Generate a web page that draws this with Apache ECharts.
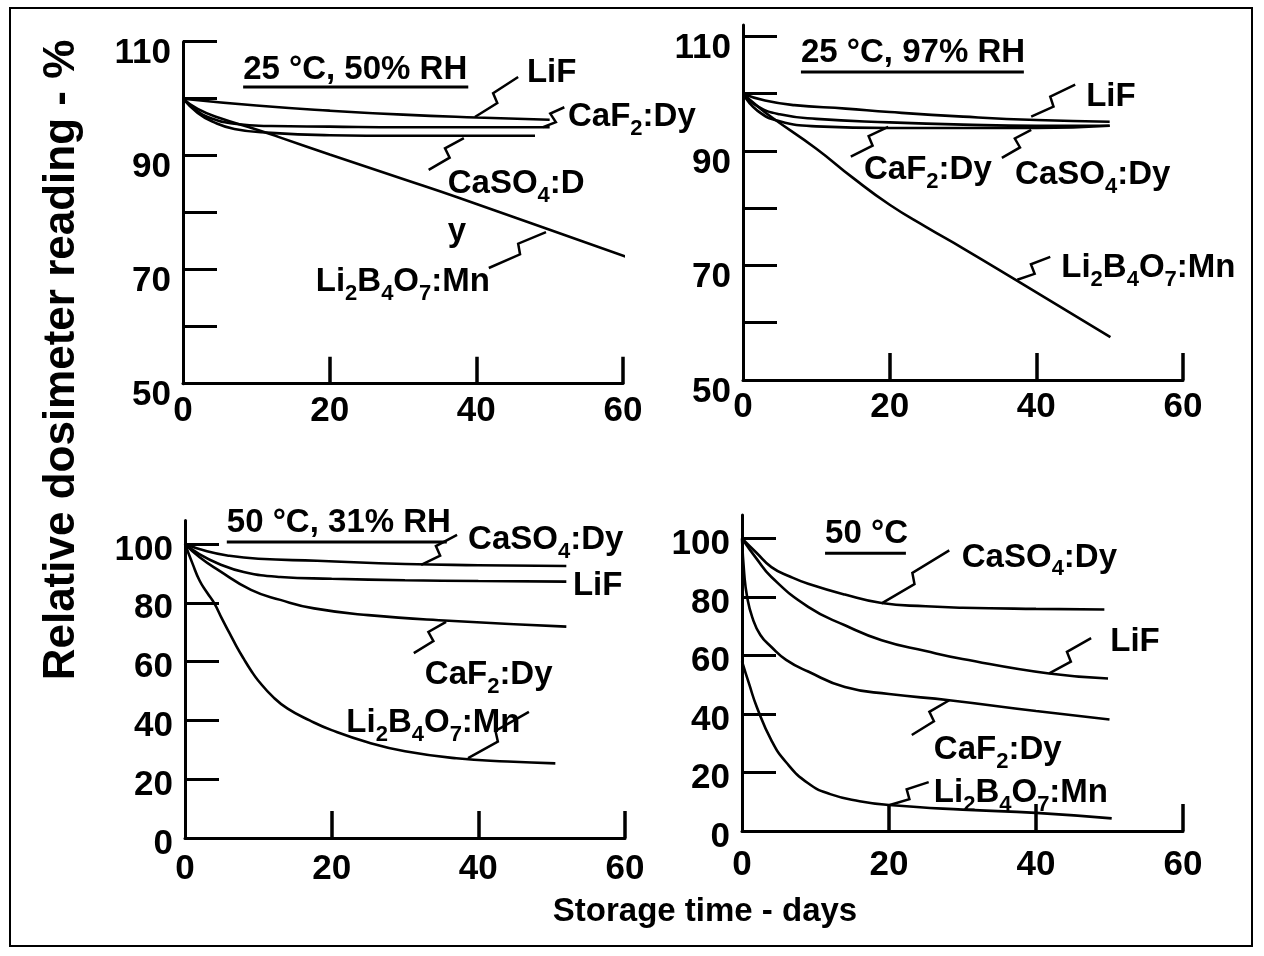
<!DOCTYPE html>
<html>
<head>
<meta charset="utf-8"/>
<script src="https://cdn.jsdelivr.net/npm/echarts@6/dist/echarts.min.js"></script>
<style>html,body{margin:0;padding:0;background:#fff}</style>
</head>
<body>
<div id="main" style="width:1264px;height:956px;"></div>
<script type="text/javascript">
// no narrow face installed, so everything uses the Arial-metric bold
var FONT = "'Liberation Sans',Arial,sans-serif";

// ---- data, [days, %] ----
// 25 C, 50% RH
var p1LiF   = [[0,100],[10,98.8],[20,97.9],[30,97.2],[40,96.7],[50,96.3]];
var p1CaF2  = [[0,100],[2,97.8],[4,96.5],[7,95.6],[12,95.2],[20,95.1],[30,95],[40,95],[50,95]];
var p1CaSO4 = [[0,100],[2,97.5],[4,96],[7,94.7],[12,94],[20,93.6],[30,93.5],[40,93.5],[48,93.5]];
var p1LiB   = [[0,100],[2,98.2],[5,96.6],[10,94.6],[13,93.3],[20,90.2],[30,85.9],[37.4,82.7],[50,77],[61,72]];
// 25 C, 97% RH
var p2LiF   = [[0,100],[3,98.8],[7,98],[14,97.4],[20,96.8],[30,96],[40,95.4],[50,95.1]];
var p2CaSO4 = [[0,100],[2,97.8],[5,96.4],[10,95.6],[20,95],[30,94.6],[40,94.4],[50,94.4]];
var p2CaF2  = [[0,100],[2,97],[5,95.2],[10,94.3],[20,94],[30,94],[40,94],[50,94.4]];
var p2LiB   = [[0,100],[2,97.8],[4,95.8],[10,90.4],[15,85.3],[20,80.6],[25,76.7],[30,73],[37.3,67.4],[50.1,57.5]];
// 50 C, 31% RH
var p3CaSO4 = [[0,100],[3,97.5],[6,96],[10,95],[18,94.3],[30,93.2],[40,92.8],[52,92.5]];
var p3LiF   = [[0,100],[2,96.5],[4.5,93.4],[8,90.5],[13,88.8],[20,88.2],[30,87.7],[40,87.4],[52,87.2]];
var p3CaF2  = [[0,100],[2,95.5],[4.5,91.2],[9,84.4],[13,81],[17.6,78.1],[25,75.8],[36,73.9],[52,71.9]];
var p3LiB   = [[0,100],[1,93.5],[2,87.5],[3,83.5],[4,79.8],[5,74.8],[6,70],[7,65.3],[8,61],[9,57],[10,53.5],[12,48],[14,44],[17,40],[20,36.7],[25,32.5],[30,29.5],[37,27.1],[44,26],[50.5,25.4]];
// 50 C
var p4CaSO4 = [[0,100],[2,95],[4,90.2],[6.5,87],[9,84.5],[14,80.8],[19,77.9],[25,76.8],[30,76.3],[40,75.9],[49.3,75.7]];
var p4LiF   = [[0,100],[2,93],[4,86.8],[9,76.6],[14,70.3],[19,65.2],[25,61.5],[30,58.8],[41.8,53.8],[49.8,52.1]];
var p4CaF2  = [[0,100],[0.3,88],[0.7,80],[1.4,73],[2.5,67],[4,62.9],[6,58.5],[9,54.5],[14,49.2],[20,46.8],[28.2,44.7],[40,41],[50,38.1]];
var p4LiB   = [[0,58],[1,50],[2,42.5],[4,31],[6,23.5],[9,16.3],[12,12.6],[16,10.2],[20,8.9],[30,7.3],[40,6.2],[50.3,4.3]];

var panelData = [
    [p1LiF, p1CaF2, p1CaSO4, p1LiB],
    [p2LiF, p2CaSO4, p2CaF2, p2LiB],
    [p3CaSO4, p3LiF, p3CaF2, p3LiB],
    [p4CaSO4, p4LiF, p4CaF2, p4LiB]
];

// axis ticks and labels
var xTicks = [20, 40, 60];
var xLabels = [0, 20, 40, 60];
var yTicksTop = [60, 70, 80, 90, 100, 110];
var yLabelsTop = [50, 70, 90, 110];
var yTicksBottom = [20, 40, 60, 80, 100];
var yLabelsBottom = [0, 20, 40, 60, 80, 100];
var yRanges = [[50, 110], [50, 112], [0, 108], [0, 108]];

// panel titles and curve names
var titles = ['25 °C, 50% RH', '25 °C, 97% RH', '50 °C, 31% RH', '50 °C'];
var nLiF = 'LiF';
var nCaF2 = 'CaF{s|2}:Dy';
var nCaSO4 = 'CaSO{s|4}:Dy';
var nLiB = 'Li{s|2}B{s|4}O{s|7}:Mn';

// note anchors in data units: [text, x, y]
var notes = [
    [[nLiF, 46.9, 104.5], [nCaF2, 52.5, 96.8], ['CaSO{s|4}:D', 36.1, 85.0], ['y', 36.1, 76.6], [nLiB, 18.1, 67.8]],
    [[nLiF, 46.8, 99.4], [nCaF2, 16.5, 86.7], [nCaSO4, 37.1, 85.8], [nLiB, 43.4, 69.6]],
    [[nCaSO4, 38.6, 101.4], [nLiF, 52.9, 85.7], [nCaF2, 32.7, 55.4], [nLiB, 22.0, 39.1]],
    [[nCaSO4, 29.9, 93.5], [nLiF, 50.1, 64.5], [nCaF2, 26.1, 27.6], [nLiB, 26.1, 13.0]]
];
// title anchor [x, y] and underline [x0, x1, y]
var titlePos = [[8.2, 105.0], [7.9, 107.1], [5.7, 107.1], [11.3, 101.4]];
var underline = [[8.2, 38.9, 102.05], [7.9, 38.3, 103.8], [5.7, 35.7, 100.7], [11.3, 22.3, 94.9]];
// leader lines [x0, y0, x1, y1]
var leaders = [
    [[45.7, 103.8, 39.8, 96.8], [52.0, 98.5, 49.1, 95.0], [33.5, 87.5, 38.3, 93.1], [41.7, 70.3, 49.5, 76.6]],
    [[45.3, 101.6, 39.3, 96.0], [14.7, 89.0, 19.8, 94.2], [35.3, 88.8, 39.3, 93.7], [41.9, 71.5, 37.4, 67.5]],
    [[37.1, 103.1, 32.2, 92.9], [31.2, 62.9, 35.6, 73.5], [46.9, 42.9, 38.6, 27.2]],
    [[28.2, 95.9, 19.0, 77.8], [47.5, 65.9, 41.8, 53.9], [23.1, 32.8, 28.2, 44.7], [25.4, 16.7, 20.1, 8.9]]
];

var grids = [
    {left: 183, top: 41.7, width: 440, height: 342},
    {left: 743, top: 25, width: 440, height: 355},
    {left: 185, top: 520.5, width: 440, height: 317.5},
    {left: 742, top: 515, width: 441, height: 316}
];
var xMargins = [10, 10, 14, 17];
var yShift = [24, 24, 12, 12];

var myChart = echarts.init(document.getElementById('main'));

var xAxes = [], yAxes = [], series = [];
for (var i = 0; i < 4; i++) {
    var isTop = i < 2;
    xAxes.push({
        type: 'value', gridIndex: i, min: 0, max: 60,
        axisLine: {lineStyle: {color: '#000', width: 3}},
        axisTick: {inside: true, length: 27, customValues: xTicks, lineStyle: {color: '#000', width: 3.5}},
        axisLabel: {customValues: xLabels, margin: xMargins[i], color: '#000', fontFamily: FONT, fontWeight: 'bold', fontSize: 35},
        splitLine: {show: false}
    });
    yAxes.push({
        type: 'value', gridIndex: i, min: yRanges[i][0], max: yRanges[i][1],
        axisLine: {show: true, lineStyle: {color: '#000', width: 3}},
        axisTick: {show: true, inside: true, length: 34, customValues: isTop ? yTicksTop : yTicksBottom, lineStyle: {color: '#000', width: 3}},
        axisLabel: {
            customValues: isTop ? yLabelsTop : yLabelsBottom, margin: 12,
            formatter: '{a|{value}}',
            rich: {a: {padding: [yShift[i], 0, 0, 0], color: '#000', fontFamily: FONT, fontWeight: 'bold', fontSize: 35}}
        },
        splitLine: {show: false}
    });
    panelData[i].forEach(function (d) {
        series.push({
            type: 'line', xAxisIndex: i, yAxisIndex: i, data: d,
            smooth: 0.5, showSymbol: false, symbol: 'none', silent: true,
            lineStyle: {color: '#000', width: 2.6}
        });
    });
}

var option = {
    animation: false,
    backgroundColor: '#fff',
    grid: grids,
    xAxis: xAxes,
    yAxis: yAxes,
    series: series
};
myChart.setOption(option);

// annotations, placed through the grids' own scales
function px(g, x, y) {
    return myChart.convertToPixel({gridIndex: g}, [x, y]);
}
var subRich = {
    s: {fontSize: 22, fontFamily: FONT, fontWeight: 'bold', lineHeight: 46, verticalAlign: 'bottom', fill: '#000'}
};
var graphic = [];
graphic.push({type: 'rect', shape: {x: 10, y: 8, width: 1242, height: 938},
    style: {fill: 'none', stroke: '#000', lineWidth: 2}});
graphic.push({type: 'text', x: 62, y: 360, rotation: Math.PI / 2,
    style: {text: 'Relative dosimeter reading - %', fill: '#000', fontFamily: FONT, fontWeight: 'bold', fontSize: 44,
        align: 'center', verticalAlign: 'middle'}});
graphic.push({type: 'text', x: 705, y: 912,
    style: {text: 'Storage time - days', fill: '#000', fontFamily: FONT, fontWeight: 'bold', fontSize: 33,
        align: 'center', verticalAlign: 'middle'}});

for (var g = 0; g < 4; g++) {
    var tp = px(g, titlePos[g][0], titlePos[g][1]);
    graphic.push({type: 'text', x: tp[0], y: tp[1],
        style: {text: titles[g], fill: '#000', fontFamily: FONT, fontWeight: 'bold', fontSize: 33,
            align: 'left', verticalAlign: 'middle'}});
    var u0 = px(g, underline[g][0], underline[g][2]), u1 = px(g, underline[g][1], underline[g][2]);
    graphic.push({type: 'line', shape: {x1: u0[0], y1: u0[1], x2: u1[0], y2: u1[1]},
        style: {stroke: '#000', lineWidth: 3}});
    notes[g].forEach(function (n) {
        var p = px(g, n[1], n[2]);
        graphic.push({type: 'text', x: p[0], y: p[1],
            style: {text: n[0], fill: '#000', fontFamily: FONT, fontWeight: 'bold', fontSize: 33, lineHeight: 36,
                align: 'left', verticalAlign: 'middle', rich: subRich}});
    });
    leaders[g].forEach(function (l) {
        var a = px(g, l[0], l[1]), b = px(g, l[2], l[3]);
        var dx = b[0] - a[0], dy = b[1] - a[1];
        var len = Math.sqrt(dx * dx + dy * dy);
        var nx = -dy / len * 5, ny = dx / len * 5;
        var pts = [a,
            [a[0] + dx * 0.5 + nx, a[1] + dy * 0.5 + ny],
            [a[0] + dx * 0.56 - nx, a[1] + dy * 0.56 - ny],
            b];
        graphic.push({type: 'polyline', shape: {points: pts},
            style: {stroke: '#000', lineWidth: 2.5, fill: 'none'}});
    });
}
myChart.setOption({graphic: graphic});
</script>
</body>
</html>
